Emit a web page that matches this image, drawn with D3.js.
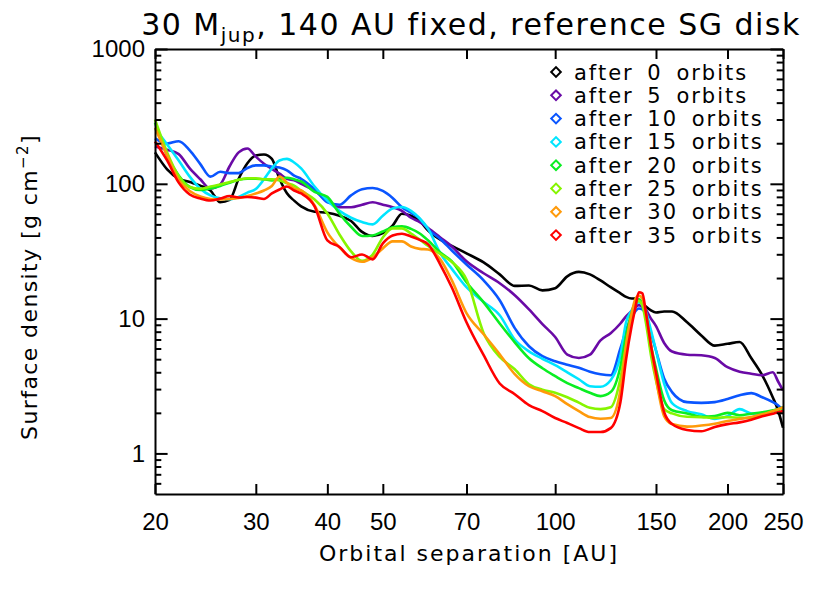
<!DOCTYPE html>
<html>
<head>
<meta charset="utf-8">
<script src="https://cdn.jsdelivr.net/npm/d3@7"></script>
<style>
  body { margin: 0; background: #fff; }
  svg { display: block; }
  .tick text { font-family: "Liberation Sans", Arial, sans-serif; font-size: 24px; fill: #000; }
  .tick line { stroke: #000; stroke-width: 2px; }
  .domain { stroke: #000; stroke-width: 2px; }
  .word { font-family: "DejaVu Sans", sans-serif; fill: #000; }
</style>
</head>
<body>
<div id="chart"></div>
<script>
// orbital separation [AU], shared by all curves
var orbitAU = [20,21,22,23,24,25,26,27,28,29,30,31,32,33,34,35,36,38,40,42,44,46,48,50,52,54,56,58,60,63,66,
  70,75,80,85,90,95,100,105,110,115,120,125,130,133,136,138,140,142,144,147,150,155,160,170,180,190,200,210,220,230,240,245,250];

// surface density [g cm^-2] after N orbits
var after0 = [171,128,109,103,97,89,73,76,109,142,162,165,153,109,85,75,68,62,61,58,53,44,41,43,49,60,58,53,45,38.5,34.6,
  30.5,26.1,21.3,17.5,17.6,16.2,16.8,20.6,22.2,21.3,19.2,17.1,15.4,14.5,14.1,14.1,13.7,13.0,12.3,11.5,11.1,11.3,11.3,9.4,7.5,6.3,6.5,6.7,5.1,3.8,2.6,2.1,1.55];
var after5 = [189,179,166,130,108,92,99,135,171,183,159,141,129,119,109,106,100,89,75,67,67,70,73,70,67,63,56,52,47,40,34.3,
  26.6,21.7,18.3,14.9,11.7,9.1,7.3,5.4,5.1,5.4,6.9,7.8,9.2,10.4,11.4,12.1,12.6,12.2,11.6,10.0,8.8,6.6,5.7,5.4,5.35,5.1,4.36,4.04,3.9,3.8,4.0,3.43,2.94];
var after10 = [217,199,207,177,140,113,123,120,120,131,137,137,134,132,126,115,109,91,73,70,82,91,93,88.5,78.5,67,61,55,46,39,32,
  25.2,19.2,13.7,8.5,6.24,5.26,4.83,4.55,4.32,4.04,3.87,3.8,6.0,8.2,10.2,11.3,11.9,11.7,10.8,7.8,5.8,3.6,2.85,2.4,2.37,2.4,2.53,2.7,2.8,2.61,2.4,2.28,2.09];
var after15 = [257,196,149,113,92,82,78,77,80,86,91.5,108,130,149,153,144,130,95.5,75,63,56,52,50,58,65.6,67.3,62.9,55.3,46.3,30.5,23.4,
  17.1,13.3,10.6,7.0,5.72,5.04,4.51,4.0,3.55,3.15,3.12,3.49,5.3,9.4,11.5,12.8,13.2,12.8,11.3,8.2,5.8,3.3,2.36,2.06,1.95,1.80,1.89,2.13,1.98,1.95,2.06,2.13,2.17];
var after20 = [285,162,115,94.7,90,92.3,96.4,102,107,109,109,108,106,109,111,108,104,87,80,60,48,41,41.4,44.3,47.5,48.3,46.3,42.8,38,31,26.6,
  18.6,13.2,9.2,6.67,5.08,4.28,3.74,3.32,3.05,2.82,2.66,2.85,4.4,7.5,11.1,13.2,13.9,13.0,10.4,6.34,4.28,2.48,2.09,1.98,1.87,1.89,2.0,1.92,1.97,2.02,2.09,2.13,2.2];
var after25 = [300,171,114,94.7,91.8,95.5,98.8,103,107,110,110,108,108,106,101,97,89,76.5,60.3,42.1,31.5,26.8,29.9,40,46.7,46.7,42.8,38.6,34.6,30.2,26.3,
  19.5,7.8,5.2,4.21,3.26,2.97,2.82,2.61,2.38,2.18,2.13,2.20,3.6,6.3,10.4,12.8,13.5,12.5,9.4,5.35,3.49,2.13,1.98,1.87,1.86,1.83,1.86,1.84,1.83,1.92,2.06,2.11,2.17];
var after30 = [261,162,107,88.5,80.5,77.1,76.5,77.1,78.5,81.2,84.8,89.2,96.4,113,102,92.3,89.2,69.1,43.6,33.7,28.2,26.4,28.5,33.2,37.4,37.4,34.3,32.9,32.6,27.5,19.2,
  11.0,7.65,5.44,3.87,3.15,2.89,2.66,2.32,2.06,1.86,1.81,1.83,2.94,6.34,10.9,13.9,14.8,14.1,10.9,6.34,3.61,1.89,1.65,1.58,1.61,1.66,1.74,1.80,1.86,1.95,2.06,2.13,2.20];
var after35 = [206,149,102,83.3,77.8,75.2,77.8,81.2,79.2,79.8,79,77.1,84.8,90.7,95.5,89.2,84.8,68,38,34,28.5,29.9,27.5,36.1,41.4,42.6,40.7,38.4,35.5,25.2,17,
  9.4,5.35,3.3,2.75,2.28,2.06,1.83,1.68,1.54,1.44,1.44,1.54,2.4,5.0,8.8,11.9,15.7,15.4,11.2,6.3,4.0,2.02,1.65,1.49,1.46,1.57,1.65,1.70,1.78,1.89,1.97,2.02,2.06];

var curves = [after0, after5, after10, after15, after20, after25, after30, after35];
var legendLabels = ["after 0 orbits", "after 5 orbits", "after 10 orbits", "after 15 orbits",
                    "after 20 orbits", "after 25 orbits", "after 30 orbits", "after 35 orbits"];
var lineColors = ["#000000", "#6a0aa6", "#0a55ff", "#00e5ff", "#0aee22", "#86f500", "#ff9a0a", "#ff0000"];

var xTicks = [20, 30, 40, 50, 70, 100, 150, 200, 250];
var yTicks = [1, 10, 100, 1000];
var yMinor = [0.6,0.7,0.8,0.9,2,3,4,5,6,7,8,9,20,30,40,50,60,70,80,90,200,300,400,500,600,700,800,900];

// set the dimensions and margins of the graph
var margin = {top: 49, right: 47, bottom: 99, left: 155},
    width = 830 - margin.left - margin.right,
    height = 593 - margin.top - margin.bottom;

var svgRoot = d3.select("#chart")
  .append("svg")
    .attr("width", 830)
    .attr("height", 593);

var svg = svgRoot.append("g")
    .attr("transform", "translate(" + margin.left + "," + margin.top + ")");

var x = d3.scaleLog().domain([20, 250]).range([0, width]);
var y = d3.scaleLog().domain([0.5, 1000]).range([height, 0]);

// curves
var line = d3.line()
  .x(function(d) { return x(d[0]); })
  .y(function(d) { return y(d[1]); })
  .curve(d3.curveMonotoneX);

curves.forEach(function(vals, i) {
  svg.append("path")
    .datum(orbitAU.map(function(a, k) { return [a, vals[k]]; }))
    .attr("fill", "none")
    .attr("stroke", lineColors[i])
    .attr("stroke-width", 2.6)
    .attr("stroke-linejoin", "round")
    .attr("d", line);
});

// axes, ticks pointing inwards on all four sides (IDL style)
var xLen = 10, yLen = 12.6;

svg.append("g")
  .attr("transform", "translate(0," + height + ")")
  .call(d3.axisBottom(x).tickValues(xTicks).tickFormat(d3.format("d"))
    .tickSizeInner(-xLen).tickSizeOuter(0).tickPadding(19));

svg.append("g")
  .call(d3.axisTop(x).tickValues(xTicks).tickFormat("")
    .tickSizeInner(-xLen).tickSizeOuter(0));

svg.append("g")
  .call(d3.axisLeft(y).tickValues(yTicks).tickFormat(d3.format("d"))
    .tickSizeInner(-yLen).tickSizeOuter(0).tickPadding(10));
svg.append("g")
  .call(d3.axisLeft(y).tickValues(yMinor).tickFormat("")
    .tickSizeInner(-yLen / 2).tickSizeOuter(0))
  .select(".domain").remove();

svg.append("g")
  .attr("transform", "translate(" + width + ",0)")
  .call(d3.axisRight(y).tickValues(yTicks).tickFormat("")
    .tickSizeInner(-yLen).tickSizeOuter(0));
svg.append("g")
  .attr("transform", "translate(" + width + ",0)")
  .call(d3.axisRight(y).tickValues(yMinor).tickFormat("")
    .tickSizeInner(-yLen / 2).tickSizeOuter(0))
  .select(".domain").remove();

// legend
var legend = svg.append("g").attr("transform", "translate(401,23)");
legendLabels.forEach(function(lab, i) {
  var row = legend.append("g").attr("transform", "translate(0," + (i * 23.3) + ")");
  row.append("path")
    .attr("d", d3.symbol(d3.symbolSquare, 46)())
    .attr("transform", "rotate(45)")
    .attr("fill", "none")
    .attr("stroke", lineColors[i])
    .attr("stroke-width", 2);
  row.append("text")
    .attr("class", "word")
    .attr("x", 18)
    .attr("y", 7.5)
    .style("font-size", "21px")
    .style("letter-spacing", "2px")
    .style("word-spacing", "5px")
    .text(lab);
});

// title
var title = svgRoot.append("text")
  .attr("class", "word")
  .attr("x", 471)
  .attr("y", 35)
  .attr("text-anchor", "middle")
  .style("font-size", "30px")
  .style("letter-spacing", "1.5px");
title.append("tspan").text("30 M");
title.append("tspan").attr("dy", 7).style("font-size", "20px").text("jup");
title.append("tspan").attr("dy", -7).text(", 140 AU fixed, reference SG disk");

// axis titles
svgRoot.append("text")
  .attr("class", "word")
  .attr("x", margin.left + width / 2)
  .attr("y", 561)
  .attr("text-anchor", "middle")
  .style("font-size", "22px")
  .style("letter-spacing", "2px")
  .text("Orbital separation [AU]");

var ylab = svgRoot.append("text")
  .attr("class", "word")
  .attr("transform", "translate(37,287) rotate(-90)")
  .attr("text-anchor", "middle")
  .style("font-size", "22px")
  .style("letter-spacing", "1.4px");
ylab.append("tspan").text("Surface density [g cm");
ylab.append("tspan").attr("dy", -9).style("font-size", "15px").text("\u22122");
ylab.append("tspan").attr("dy", 9).text("]");
</script>
</body>
</html>
